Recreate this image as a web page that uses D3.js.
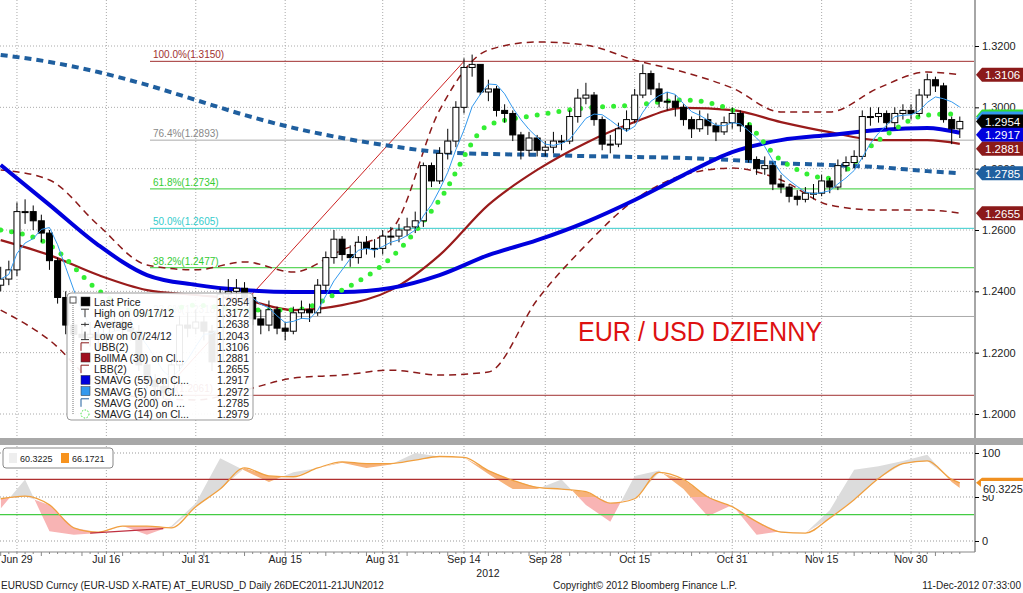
<!DOCTYPE html>
<html>
<head>
<meta charset="utf-8">
<script src="https://cdn.jsdelivr.net/npm/d3@7"></script>
<style>
  body { margin: 0; background: #fff; }
  svg { display: block; font-family: "Liberation Sans", Arial, sans-serif; }
</style>
</head>
<body>
<div id="chart"></div>
<script>
// Daily EUR/USD closes, Jun 27 .. Dec 10 2012 (trading days)
var closes = [1.2440,1.2470,1.2660,1.2660,1.2630,1.2590,1.2500,1.2380,1.2290,1.2260,
  1.2250,1.2260,1.2250,1.2290,1.2300,1.2280,1.2270,1.2160,1.2110,1.2090,
  1.2070,1.2160,1.2290,1.2280,1.2300,1.2270,1.2170,1.2390,1.2400,1.2410,
  1.2380,1.2310,1.2290,1.2340,1.2280,1.2270,1.2330,1.2340,1.2330,1.2420,
  1.2510,1.2570,1.2520,1.2510,1.2560,1.2540,1.2540,1.2580,1.2580,1.2600,
  1.2610,1.2630,1.2810,1.2760,1.2850,1.2890,1.3000,1.3130,1.3140,1.3050,
  1.3060,1.2990,1.2980,1.2910,1.2860,1.2900,1.2860,1.2870,1.2890,1.2890,
  1.2970,1.3030,1.3040,1.2960,1.2880,1.2880,1.2930,1.2960,1.3040,1.3110,
  1.3060,1.3020,1.3020,1.3000,1.2960,1.2930,1.2960,1.2940,1.2920,1.2950,
  1.2980,1.2940,1.2830,1.2800,1.2810,1.2750,1.2740,1.2710,1.2700,1.2720,
  1.2720,1.2760,1.2740,1.2810,1.2820,1.2840,1.2970,1.2970,1.2980,1.2950,
  1.2980,1.2990,1.2980,1.3040,1.3090,1.3070,1.2960,1.2930,1.2954];
var highs = [1.2480,1.2500,1.2690,1.2700,1.2680,1.2650,1.2600,1.2510,1.2400,1.2310,
  1.2290,1.2300,1.2280,1.2330,1.2340,1.2320,1.2310,1.2290,1.2180,1.2130,
  1.2110,1.2180,1.2320,1.2330,1.2340,1.2320,1.2290,1.2410,1.2440,1.2440,
  1.2430,1.2390,1.2340,1.2370,1.2350,1.2300,1.2350,1.2370,1.2360,1.2440,
  1.2530,1.2600,1.2580,1.2550,1.2580,1.2580,1.2570,1.2600,1.2610,1.2620,
  1.2640,1.2660,1.2820,1.2820,1.2870,1.2930,1.3020,1.3160,1.3172,1.3140,
  1.3090,1.3070,1.3010,1.2990,1.2920,1.2920,1.2910,1.2890,1.2920,1.2910,
  1.2990,1.3060,1.3080,1.3050,1.2970,1.2910,1.2950,1.2990,1.3060,1.3140,
  1.3120,1.3080,1.3050,1.3040,1.3010,1.2970,1.2990,1.2980,1.2950,1.2970,
  1.3000,1.2990,1.2950,1.2840,1.2840,1.2820,1.2780,1.2750,1.2730,1.2740,
  1.2750,1.2780,1.2770,1.2830,1.2840,1.2860,1.2990,1.3000,1.3000,1.2990,
  1.3000,1.3010,1.3010,1.3060,1.3110,1.3100,1.3080,1.2970,1.2970];
var lows = [1.2400,1.2420,1.2450,1.2620,1.2600,1.2560,1.2470,1.2360,1.2260,1.2230,
  1.2220,1.2220,1.2210,1.2230,1.2270,1.2250,1.2240,1.2140,1.2080,1.2043,
  1.2050,1.2060,1.2140,1.2250,1.2260,1.2240,1.2140,1.2150,1.2370,1.2370,
  1.2350,1.2290,1.2260,1.2270,1.2260,1.2240,1.2260,1.2310,1.2300,1.2320,
  1.2400,1.2490,1.2500,1.2480,1.2490,1.2520,1.2510,1.2520,1.2550,1.2560,
  1.2580,1.2590,1.2610,1.2740,1.2750,1.2830,1.2870,1.2980,1.3100,1.3040,
  1.3020,1.2970,1.2950,1.2890,1.2830,1.2840,1.2840,1.2840,1.2850,1.2860,
  1.2880,1.2950,1.3010,1.2940,1.2860,1.2850,1.2870,1.2920,1.2950,1.3030,
  1.3040,1.3000,1.2990,1.2970,1.2940,1.2900,1.2920,1.2910,1.2890,1.2910,
  1.2930,1.2920,1.2820,1.2780,1.2780,1.2730,1.2720,1.2690,1.2680,1.2690,
  1.2700,1.2710,1.2720,1.2730,1.2790,1.2800,1.2830,1.2940,1.2950,1.2930,
  1.2930,1.2960,1.2960,1.2970,1.3030,1.3050,1.2950,1.2880,1.2900];
var firstOpen = 1.2420;

// overlay studies, read at these trading-day indices
var ovDays  = [0,6,12,18,24,30,36,42,48,54,60,66,72,78,84,90,96,102,108,114,118];
var sma200  = [1.3171,1.3148,1.3115,1.3073,1.3024,1.2975,1.2933,1.2900,1.2874,1.2854,1.2848,1.2845,1.2841,1.2838,1.2835,1.2828,1.2818,1.2812,1.2805,1.2792,1.2785];
var sma55   = [1.2812,1.2682,1.2551,1.2453,1.2421,1.2404,1.2398,1.2398,1.2411,1.2453,1.2518,1.2567,1.2626,1.2698,1.2779,1.2854,1.2893,1.2910,1.2926,1.2933,1.2917];
var bollMa  = [1.2567,1.2518,1.2453,1.2404,1.2388,1.2372,1.2339,1.2355,1.2404,1.2518,1.2682,1.2796,1.2884,1.2952,1.2998,1.2991,1.2952,1.2919,1.2893,1.2893,1.2881];
var bollUp  = [1.2796,1.2763,1.2616,1.2486,1.2470,1.2496,1.2463,1.2535,1.2600,1.2991,1.3187,1.3213,1.3203,1.3154,1.3115,1.3063,1.2985,1.2985,1.3063,1.3115,1.3106];
var bollLo  = [1.2339,1.2241,1.2095,1.2052,1.2046,1.2078,1.2117,1.2127,1.2143,1.2127,1.2137,1.2372,1.2551,1.2698,1.2779,1.2802,1.2763,1.2681,1.2665,1.2665,1.2655];
var sma14   = [1.2600,1.2551,1.2404,1.2323,1.2355,1.2339,1.2339,1.2404,1.2509,1.2698,1.2942,1.2975,1.2998,1.3007,1.3024,1.2991,1.2828,1.2769,1.2893,1.2975,1.2979];

// fibonacci retracement
var fibLevels = [0, 0.236, 0.382, 0.5, 0.618, 0.764, 1];
var fibLabels = ["0.0%(1.2061)","23.6%(1.2318)","38.2%(1.2477)","50.0%(1.2605)","61.8%(1.2734)","76.4%(1.2893)","100.0%(1.3150)"];
var fibColors = ["#a03030","#aaaaaa","#33cc33","#33cccc","#33cc33","#aaaaaa","#a03030"];
var fibLow = 1.2061, fibHigh = 1.3150;

// oscillator (every 3rd day + last)
var oscDays = [0,3,6,9,12,15,18,21,24,27,30,33,36,39,42,45,48,51,54,57,60,63,66,69,72,75,78,81,84,87,90,93,96,99,102,105,108,111,114,117,118];
var oscSlow = [48,51,41,15,10,17,17,15,39,59,83,74,73,83,90,88,88,92,96,95,80,69,61,59,56,43,48,78,70,50,39,22,10,9,26,47,71,88,91,70,66.17];
var oscFast = [37,70,11,7,9,17,7,17,43,94,80,67,78,83,89,83,87,100,96,95,76,59,59,70,41,22,74,80,59,28,41,7,11,9,35,81,85,91,98,67,60.32];

var dateTicks = [[2,"Jun 29"],[13,"Jul 16"],[24,"Jul 31"],[35,"Aug 15"],[47,"Aug 31"],[57,"Sep 14"],[67,"Sep 28"],[78,"Oct 15"],[90,"Oct 31"],[101,"Nov 15"],[112,"Nov 30"]];
var priceTicks = [1.20,1.22,1.24,1.26,1.28,1.30,1.32];

var legendRows = [
  ["Last Price","1.2954","#000","box"],
  ["High on 09/17/12","1.3172","#000","high"],
  ["Average","1.2638","#000","avg"],
  ["Low on 07/24/12","1.2043","#000","low"],
  ["UBB(2)","1.3106","#8b1a1a","dash"],
  ["BollMA (30) on Cl...","1.2881","#a01020","box"],
  ["LBB(2)","1.2655","#8b1a1a","dash"],
  ["SMAVG (55) on Cl...","1.2917","#0000dd","box"],
  ["SMAVG (5) on Cl...","1.2972","#3399ee","box"],
  ["SMAVG (200) on ...","1.2785","#1f5f9f","dash"],
  ["SMAVG (14) on Cl...","1.2979","#33dd33","dot"]
];

var W = 1023, H = 593;
var svg = d3.select("#chart").append("svg").attr("width", W).attr("height", H);

var x = d3.scaleLinear().domain([0, 119.5]).range([0.7, 972]);
var y = d3.scaleLinear().domain([1.20, 1.32]).range([414, 46]);
var yo = d3.scaleLinear().domain([0, 100]).range([541, 453]);
var plotR = 974;

var main = svg.append("g");
main.append("clipPath").attr("id", "clipMain").append("rect").attr("x", 0).attr("y", 0).attr("width", plotR).attr("height", 438);
var pg = main.append("g").attr("clip-path", "url(#clipMain)");

// grid
priceTicks.forEach(function(p) {
  pg.append("line").attr("x1", 0).attr("x2", plotR).attr("y1", y(p)).attr("y2", y(p))
    .attr("stroke", "#aaa").attr("stroke-dasharray", "1,2");
});
dateTicks.forEach(function(t) {
  pg.append("line").attr("x1", x(t[0])).attr("x2", x(t[0])).attr("y1", 0).attr("y2", 438)
    .attr("stroke", "#aaa").attr("stroke-dasharray", "1,2");
  svg.append("line").attr("x1", x(t[0])).attr("x2", x(t[0])).attr("y1", 446).attr("y2", 552)
    .attr("stroke", "#aaa").attr("stroke-dasharray", "1,2");
});

// fibonacci
fibLevels.forEach(function(f, i) {
  var p = fibLow + f * (fibHigh - fibLow);
  pg.append("line").attr("x1", 150).attr("x2", plotR).attr("y1", y(p)).attr("y2", y(p))
    .attr("stroke", fibColors[i]).attr("stroke-width", 1);
  pg.append("text").attr("x", 153).attr("y", y(p) - 3).attr("font-size", 10)
    .attr("fill", fibColors[i] == "#aaaaaa" ? "#888" : fibColors[i]).text(fibLabels[i]);
});
pg.append("line").attr("x1", x(19)).attr("y1", y(1.2043)).attr("x2", x(57)).attr("y2", y(fibHigh))
  .attr("stroke", "#cc2222").attr("stroke-width", 1);

function ovLine(vals) {
  return d3.line().x(function(d, i) { return x(ovDays[i]); }).y(function(d) { return y(d); })
    .curve(d3.curveMonotoneX)(vals);
}
pg.append("path").attr("d", ovLine(bollUp)).attr("fill", "none").attr("stroke", "#8b1a1a").attr("stroke-width", 1.5).attr("stroke-dasharray", "7,5");
pg.append("path").attr("d", ovLine(bollLo)).attr("fill", "none").attr("stroke", "#8b1a1a").attr("stroke-width", 1.5).attr("stroke-dasharray", "7,5");
pg.append("path").attr("d", ovLine(sma200)).attr("fill", "none").attr("stroke", "#1f5f9f").attr("stroke-width", 4).attr("stroke-dasharray", "7,5");
pg.append("path").attr("d", ovLine(bollMa)).attr("fill", "none").attr("stroke", "#991b1b").attr("stroke-width", 2.2);
pg.append("path").attr("d", ovLine(sma55)).attr("fill", "none").attr("stroke", "#0000dd").attr("stroke-width", 4);
pg.append("path").attr("d", ovLine(sma14)).attr("fill", "none").attr("stroke", "#33ee33").attr("stroke-width", 5)
  .attr("stroke-linecap", "round").attr("stroke-dasharray", "0,11");

// candles
var opens = closes.map(function(c, i) { return i == 0 ? firstOpen : closes[i - 1]; });
var cw = 6;
closes.forEach(function(c, i) {
  var o = opens[i], up = c >= o, cx = x(i);
  pg.append("line").attr("x1", cx).attr("x2", cx).attr("y1", y(highs[i])).attr("y2", y(lows[i])).attr("stroke", "#000");
  pg.append("rect").attr("x", cx - cw / 2).attr("y", y(Math.max(o, c)))
    .attr("width", cw).attr("height", Math.max(1, Math.abs(y(o) - y(c))))
    .attr("fill", up ? "#fff" : "#000").attr("stroke", "#000").attr("stroke-width", 1);
});
// 5-day average of the closes
var sma5 = closes.map(function(c, i) {
  var s = closes.slice(Math.max(0, i - 4), i + 1);
  return d3.mean(s);
});
pg.append("path").attr("d", d3.line().x(function(d, i) { return x(i); }).y(function(d) { return y(d); })(sma5))
  .attr("fill", "none").attr("stroke", "#3399ee").attr("stroke-width", 1);

// title
svg.append("text").attr("x", 578).attr("y", 341).attr("font-size", 27).attr("fill", "#dd1111")
  .attr("textLength", 244).attr("lengthAdjust", "spacingAndGlyphs").text("EUR / USD DZIENNY");

// legend
var lg = svg.append("g").attr("transform", "translate(67,293)");
lg.append("rect").attr("width", 186).attr("height", 127).attr("rx", 4).attr("fill", "#fff").attr("fill-opacity", 0.92).attr("stroke", "#999");
lg.append("rect").attr("x", 3).attr("y", 4).attr("width", 6).attr("height", 6).attr("fill", "#fff").attr("stroke", "#555");
lg.append("line").attr("x1", 6).attr("x2", 6).attr("y1", 10).attr("y2", 122).attr("stroke", "#777").attr("stroke-dasharray", "1,1");
legendRows.forEach(function(r, i) {
  var ry = 9 + i * 11.2;
  var g = lg.append("g").attr("transform", "translate(14," + ry + ")");
  if (r[3] == "box") g.append("rect").attr("x", 0).attr("y", -5).attr("width", 9).attr("height", 9).attr("fill", r[2]).attr("stroke", "#333").attr("stroke-width", 0.5);
  if (r[3] == "dash") g.append("path").attr("d", "M0,-4 H8 M0,-4 V4").attr("stroke", r[2]).attr("fill", "none");
  if (r[3] == "dot") g.append("circle").attr("cx", 4).attr("cy", 0).attr("r", 4).attr("fill", "none").attr("stroke", "#33dd33").attr("stroke-dasharray", "1.5,1.5");
  if (r[3] == "high") g.append("path").attr("d", "M0,-4 H8 M4,-4 V4").attr("stroke", "#333");
  if (r[3] == "avg") g.append("path").attr("d", "M0,0 H8 M4,-2 V2").attr("stroke", "#333");
  if (r[3] == "low") g.append("path").attr("d", "M0,4 H8 M4,-4 V4").attr("stroke", "#333");
  g.append("text").attr("x", 13).attr("y", 4).attr("font-size", 10.5).attr("fill", "#222").text(r[0]);
  g.append("text").attr("x", 168).attr("y", 4).attr("font-size", 10.5).attr("fill", "#222").attr("text-anchor", "end").text(r[1]);
});

// right axis
svg.append("line").attr("x1", 975).attr("x2", 975).attr("y1", 0).attr("y2", 552).attr("stroke", "#888").attr("stroke-width", 1.5);
var axR = d3.axisRight(y).tickValues(priceTicks).tickFormat(d3.format(".4f")).tickSize(4);
svg.append("g").attr("transform", "translate(975,0)").call(axR)
  .call(function(g) { g.select(".domain").remove(); g.selectAll("text").attr("font-size", 11).attr("fill", "#222").attr("x", 7); });

// value tags (green and light blue ones sit almost fully behind the last-price tag)
var tags = [[1.2979,"#33dd33",-5],[1.2972,"#3399ee",-3],[1.3106,"#8b1a1a",0],[1.2954,"#000",0],
  [1.2917,"#0000dd",2],[1.2881,"#8b1a1a",5],[1.2785,"#1f5f9f",0],[1.2655,"#8b1a1a",0]];
tags.forEach(function(t) {
  var ty = t[0] == 1.2979 || t[0] == 1.2972 ? y(1.2954) + t[2] : y(t[0]) + t[2];
  svg.append("path").attr("d", "M976," + ty + " L982," + (ty - 7) + " H1023 V" + (ty + 7) + " H982 Z").attr("fill", t[1]);
  if (t[2] >= 0) svg.append("text").attr("x", 985).attr("y", ty + 4.5).attr("font-size", 11.5).attr("fill", "#fff").text(t[0].toFixed(4));
});

// separator
svg.append("rect").attr("x", 0).attr("y", 438).attr("width", W).attr("height", 7).attr("fill", "#a8a8a8");

// oscillator panel
var op = svg.append("g");
[0, 50, 100].forEach(function(v) {
  op.append("line").attr("x1", 0).attr("x2", plotR).attr("y1", yo(v)).attr("y2", yo(v)).attr("stroke", "#999").attr("stroke-dasharray", "1,2");
});
var defs = svg.append("defs");
var aboveSlow = d3.area().x(function(d, i) { return x(oscDays[i]); }).y0(446).y1(function(d) { return yo(d); });
var belowSlow = d3.area().x(function(d, i) { return x(oscDays[i]); }).y0(552).y1(function(d) { return yo(d); });
defs.append("clipPath").attr("id", "cAbove").append("path").attr("d", aboveSlow(oscSlow));
defs.append("clipPath").attr("id", "cBelow").append("path").attr("d", belowSlow(oscSlow));
defs.append("clipPath").attr("id", "cHigh").append("rect").attr("x", 0).attr("y", 446).attr("width", plotR).attr("height", yo(50) - 446);
defs.append("clipPath").attr("id", "cLowR").append("rect").attr("x", 0).attr("y", yo(50)).attr("width", plotR).attr("height", 552 - yo(50));
var between = d3.area().x(function(d, i) { return x(oscDays[i]); })
  .y0(function(d, i) { return yo(oscSlow[i]); }).y1(function(d) { return yo(d); });
var bd = between(oscFast);
op.append("path").attr("d", bd).attr("fill", "#dcdcdc").attr("clip-path", "url(#cAbove)");
op.append("g").attr("clip-path", "url(#cHigh)").append("path").attr("d", bd).attr("fill", "#f7b27a").attr("clip-path", "url(#cBelow)");
op.append("g").attr("clip-path", "url(#cLowR)").append("path").attr("d", bd).attr("fill", "#f8b4b4").attr("clip-path", "url(#cBelow)");
op.append("line").attr("x1", 0).attr("x2", plotR).attr("y1", yo(70)).attr("y2", yo(70)).attr("stroke", "#b03030").attr("stroke-width", 1.2);
op.append("line").attr("x1", 0).attr("x2", plotR).attr("y1", yo(30)).attr("y2", yo(30)).attr("stroke", "#44cc44").attr("stroke-width", 1.2);
op.append("path").attr("d", d3.line().x(function(d, i) { return x(oscDays[i]); }).y(function(d) { return yo(d); }).curve(d3.curveMonotoneX)(oscSlow))
  .attr("fill", "none").attr("stroke", "#f0a040").attr("stroke-width", 1.3);
op.append("line").attr("x1", x(11)).attr("y1", yo(9)).attr("x2", x(20)).attr("y2", yo(14)).attr("stroke", "#c03040").attr("stroke-width", 1.2);

svg.append("g").attr("transform", "translate(975,0)").call(d3.axisRight(yo).tickValues([0, 50, 100]).tickSize(4))
  .call(function(g) { g.select(".domain").remove(); g.selectAll("text").attr("font-size", 11).attr("fill", "#222").attr("x", 7); });
svg.append("path").attr("d", "M976," + yo(66.17) + " L982," + (yo(66.17) - 5) + " H1023 V" + (yo(66.17) + 5) + " H982 Z").attr("fill", "#f09020");
svg.append("rect").attr("x", 981).attr("y", 481).attr("width", 42).attr("height", 14).attr("fill", "#fff");
svg.append("text").attr("x", 983).attr("y", 493).attr("font-size", 11).attr("fill", "#222").text("60.3225");

// oscillator legend
var ol = svg.append("g").attr("transform", "translate(3,448)");
ol.append("rect").attr("width", 110).attr("height", 20).attr("rx", 3).attr("fill", "#fff").attr("stroke", "#888");
ol.append("rect").attr("x", 6).attr("y", 5).attr("width", 8).attr("height", 10).attr("fill", "#eee");
ol.append("text").attr("x", 17).attr("y", 14).attr("font-size", 9).attr("fill", "#222").text("60.3225");
ol.append("rect").attr("x", 58).attr("y", 5).attr("width", 8).attr("height", 10).attr("fill", "#f7931e");
ol.append("text").attr("x", 69).attr("y", 14).attr("font-size", 9).attr("fill", "#222").text("66.1721");

// bottom axis
svg.append("line").attr("x1", 0).attr("x2", 975).attr("y1", 552).attr("y2", 552).attr("stroke", "#888");
var days = d3.range(0, 119);
days.forEach(function(d) {
  svg.append("line").attr("x1", x(d)).attr("x2", x(d)).attr("y1", 552).attr("y2", d % 5 == 0 ? 556 : 554).attr("stroke", "#888");
});
dateTicks.forEach(function(t) {
  svg.append("text").attr("x", x(t[0])).attr("y", 563).attr("font-size", 10.5).attr("fill", "#222").attr("text-anchor", "middle").text(t[1]);
});
svg.append("text").attr("x", 488).attr("y", 577).attr("font-size", 10.5).attr("fill", "#222").attr("text-anchor", "middle").text("2012");

// footer
svg.append("text").attr("x", 1).attr("y", 589).attr("font-size", 10).attr("fill", "#222").text("EURUSD Curncy (EUR-USD X-RATE) AT_EURUSD_D  Daily 26DEC2011-21JUN2012");
svg.append("text").attr("x", 553).attr("y", 589).attr("font-size", 10).attr("fill", "#222").text("Copyright\u00a9 2012 Bloomberg Finance L.P.");
svg.append("text").attr("x", 1021).attr("y", 589).attr("font-size", 10).attr("fill", "#222").attr("text-anchor", "end").text("11-Dec-2012 07:33:00");
</script>
</body>
</html>
